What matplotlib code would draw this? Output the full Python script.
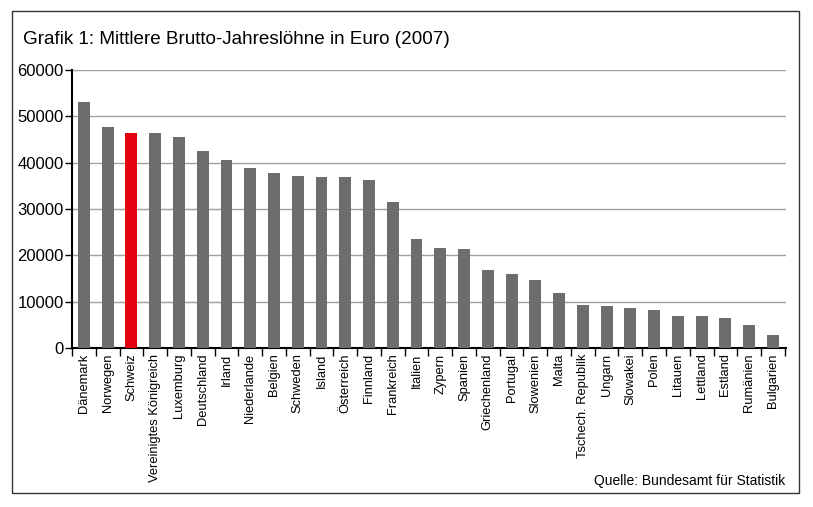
import matplotlib.pyplot as plt
import matplotlib.patches as mpatches
import numpy as np

countries = ["Dänemark", "Norwegen", "Schweiz", "Vereinigtes Königreich", "Luxemburg",
             "Deutschland", "Irland", "Niederlande", "Belgien", "Schweden", "Island",
             "Österreich", "Finnland", "Frankreich", "Italien", "Zypern", "Spanien",
             "Griechenland", "Portugal", "Slowenien", "Malta", "Tschech. Republik",
             "Ungarn", "Slowakei", "Polen", "Litauen", "Lettland", "Estland",
             "Rumänien", "Bulgarien"]
wages = [53200, 47600, 46500, 46300, 45500, 42550, 40600, 38900, 37870, 37090, 36940,
         36940, 36360, 31600, 23540, 21530, 21320, 16850, 16050, 14690, 11810, 9220,
         9070, 8570, 8280, 6910, 6910, 6550, 4970, 2810]
highlight = "Schweiz"
yticks = [0, 10000, 20000, 30000, 40000, 50000, 60000]

plt.rcParams['font.family'] = ['Liberation Sans', 'DejaVu Sans']

fig = plt.figure(figsize=(8.13, 5.07), dpi=100)
ax = fig.add_axes([72/813, 1-348/507, (786-72)/813, (348-70)/507])

x = np.arange(len(countries))
colors = ['#e3000f' if c == highlight else '#6d6d6d' for c in countries]
ax.bar(x, wages, width=0.5, color=colors, zorder=3)

ax.set_ylim(0, 60000)
ax.set_xlim(-0.46, len(countries) - 1 + 0.55)
ax.set_yticks(yticks)
ax.set_yticklabels([str(v) for v in yticks], fontsize=12)
for v in yticks[1:]:
    ax.axhline(v, color='#a0a0a0', lw=1, zorder=1)

ax.set_xticks(x)
ax.set_xticklabels(countries, rotation=90, fontsize=9.3)
ax.tick_params(axis='x', length=0, pad=4)
ax.set_xticks(np.arange(len(countries) + 1) - 0.5, minor=True)
ax.tick_params(axis='x', which='minor', length=6, width=1, direction='out')
ax.tick_params(axis='y', length=5, width=1, pad=1)

for s in ['top', 'right']:
    ax.spines[s].set_visible(False)
ax.spines['left'].set_linewidth(1.5)
ax.spines['bottom'].set_linewidth(1.5)

fig.text(23/813, 1-40/507, "Grafik 1: Mittlere Brutto-Jahreslöhne in Euro (2007)",
         fontsize=13.6, va='center', ha='left')
fig.text(785/813, 1-481/507, "Quelle: Bundesamt für Statistik",
         fontsize=10, va='center', ha='right')

fig.patches.append(mpatches.Rectangle((12/813, 1-493/507), (799-12)/813, (493-11)/507,
                                      transform=fig.transFigure, fill=False,
                                      edgecolor='#333333', lw=1))

fig.savefig("out.png", dpi=100)
